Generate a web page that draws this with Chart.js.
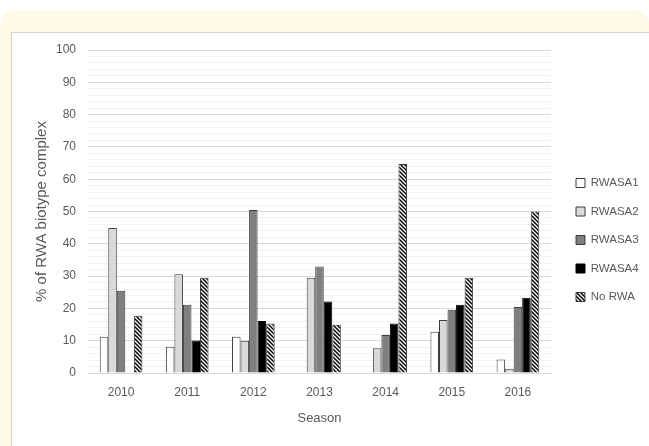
<!DOCTYPE html>
<html>
<head>
<meta charset="utf-8">
<script src="https://cdn.jsdelivr.net/npm/chart.js@4/dist/chart.umd.min.js"></script>
<style>
  html, body { margin: 0; padding: 0; }
  body { width: 649px; height: 446px; overflow: hidden; position: relative; background: #fff; }
  .frame { position: absolute; left: 0; top: 10px; width: 650px; height: 460px; background: #fffae8; border-radius: 16px 16px 0 0; }
  .panel { position: absolute; left: 11px; top: 32px; width: 660px; height: 430px; background: #fff; border-top: 1px solid #d6d6d6; border-left: 1px solid #d6d6d6; }
  #chart { position: absolute; left: 0; top: 0; }
</style>
</head>
<body>
<div class="frame"></div>
<div class="panel"></div>
<canvas id="chart" width="649" height="446"></canvas>
<script>
// Seasons and share (%) of each RWA biotype complex
const seasons = ['2010', '2011', '2012', '2013', '2014', '2015', '2016'];
const rwasa1 = [11.2, 8.1, 11.2, 0, 0, 12.8, 4.2];
const rwasa2 = [44.9, 30.6, 10.0, 29.5, 7.7, 16.4, 1.3];
const rwasa3 = [25.5, 21.1, 50.5, 33.0, 11.8, 19.6, 20.4];
const rwasa4 = [0, 10.1, 16.1, 22.1, 15.3, 21.1, 23.3];
const noRwa = [17.7, 29.5, 15.3, 14.9, 64.7, 29.5, 50.0];
const seriesNames = ['RWASA1', 'RWASA2', 'RWASA3', 'RWASA4', 'No RWA'];

const FONT = '"Liberation Sans", Arial, sans-serif';
const TEXT = '#595959';

// Black/white downward diagonal hatch
function hatch() {
  const c = document.createElement('canvas');
  c.width = c.height = 4;
  const g = c.getContext('2d');
  g.fillStyle = '#fff';
  g.fillRect(0, 0, 4, 4);
  g.strokeStyle = '#000';
  g.lineWidth = 1.5;
  g.beginPath();
  g.moveTo(-1, -1); g.lineTo(5, 5);
  g.moveTo(-1, 3); g.lineTo(1, 5);
  g.moveTo(3, -1); g.lineTo(5, 1);
  g.stroke();
  return g.createPattern(c, 'repeat');
}

const edge = '#3c3c3c';
const datasets = [
  { label: seriesNames[0], data: rwasa1, backgroundColor: '#ffffff', borderColor: edge },
  { label: seriesNames[1], data: rwasa2, backgroundColor: '#d9d9d9', borderColor: edge },
  { label: seriesNames[2], data: rwasa3, backgroundColor: '#7f7f7f', borderColor: edge },
  { label: seriesNames[3], data: rwasa4, backgroundColor: '#000000', borderColor: '#000000' },
  { label: seriesNames[4], data: noRwa, backgroundColor: hatch(), borderColor: edge }
].map(d => Object.assign(d, { borderWidth: 1, categoryPercentage: 0.645, barPercentage: 1 }));

// Fixed legend column width, with a gap between plot and legend
const LEGEND_W = 98, LEGEND_GAP = 8;
const legendLayout = {
  id: 'legendLayout',
  beforeInit(chart) {
    const lg = chart.legend;
    if (!lg) return;
    const fit = lg.fit;
    lg.fit = function () { fit.call(this); if (!this.isHorizontal()) this.width = LEGEND_W; };
  },
  afterLayout(chart) {
    if (chart.legend) chart.legend.left += LEGEND_GAP;
  }
};

new Chart(document.getElementById('chart'), {
  type: 'bar',
  data: { labels: seasons, datasets },
  plugins: [legendLayout],
  options: {
    responsive: false,
    animation: false,
    events: [],
    layout: { padding: { top: 50, left: 30, right: 0, bottom: 16 } },
    plugins: {
      tooltip: { enabled: false },
      legend: {
        position: 'right',
        labels: {
          boxWidth: 9, boxHeight: 9, padding: 17,
          color: TEXT, font: { family: FONT, size: 11.5 }
        }
      }
    },
    scales: {
      x: {
        offset: true,
        grid: { display: false, drawTicks: false },
        border: { display: true, color: '#d9d9d9', width: 1 },
        ticks: { padding: 12, color: TEXT, font: { family: FONT, size: 12 } },
        title: { display: true, text: 'Season', color: TEXT, font: { family: FONT, size: 13 }, padding: { top: 4, bottom: 4 } },
        afterFit(s) { s.height = 57; }
      },
      y: {
        min: 0, max: 100,
        border: { display: false },
        grid: {
          drawTicks: false,
          color: ctx => (ctx.tick && ctx.tick.value % 10 === 0) ? '#d9d9d9' : '#f2f2f2',
          lineWidth: 1
        },
        ticks: {
          stepSize: 2, autoSkip: false, padding: 12,
          color: TEXT, font: { family: FONT, size: 12 },
          callback: v => (v % 10 === 0 ? v : '')
        },
        title: { display: true, text: '% of RWA biotype complex', color: TEXT, font: { family: FONT, size: 15 }, padding: { top: 3, bottom: 4 } },
        afterFit(s) { s.width = 58; }
      }
    }
  }
});
</script>
</body>
</html>
